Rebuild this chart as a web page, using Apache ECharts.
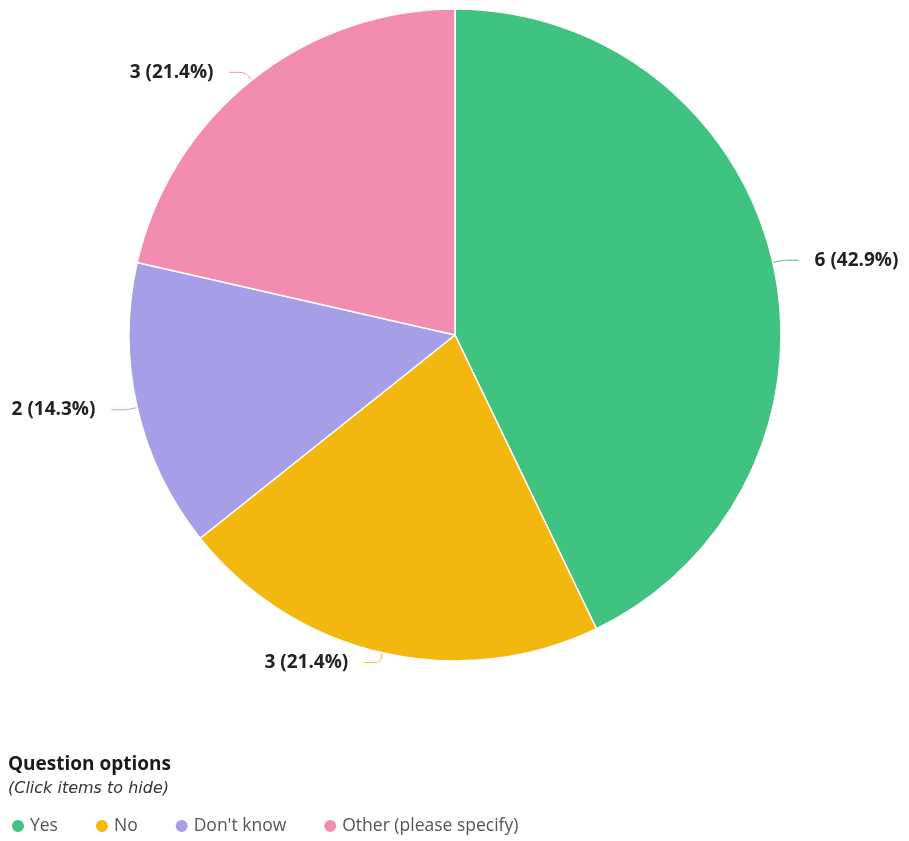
<!DOCTYPE html>
<html>
<head>
<meta charset="utf-8">
<script src="https://cdn.jsdelivr.net/npm/echarts@6/dist/echarts.min.js"></script>
<style>html,body{margin:0;padding:0;background:#fff;}#c{width:909px;height:841px;}</style>
</head>
<body>
<div id="c"></div>
<script>
const categories = ["Yes", "No", "Don't know", "Other (please specify)"];
const values = [6, 3, 2, 3];
const colors = ["#40c380", "#f2b80f", "#a69ee6", "#f28cb1"];

const total = values.reduce((a, b) => a + b, 0);
const chart = echarts.init(document.getElementById('c'));
chart.setOption({
  animation: false,
  title: {
    text: 'Question options',
    subtext: '(Click items to hide)',
    left: 3,
    top: 750,
    itemGap: 7,
    textStyle: { fontFamily: 'Open Sans', fontSize: 19, fontWeight: 'bold', color: '#1a1a1a' },
    subtextStyle: { fontFamily: 'DejaVu Sans', fontSize: 16, fontStyle: 'italic', color: '#333' }
  },
  legend: {
    left: 5,
    top: 812,
    icon: 'circle',
    itemWidth: 14,
    itemHeight: 14,
    itemGap: 36,
    textStyle: { fontFamily: 'Open Sans', fontSize: 17.5, color: '#555' },
    data: categories
  },
  series: [{
    type: 'pie',
    center: [455, 335],
    radius: 326,
    startAngle: 90,
    clockwise: true,
    itemStyle: { borderColor: '#fff', borderWidth: 1.5 },
    label: {
      show: true,
      position: 'outside',
      fontFamily: 'Open Sans',
      fontSize: 19,
      fontWeight: 'bold',
      color: '#222',
      distanceToLabelLine: 16,
      formatter: p => p.value + ' (' + (p.value / total * 100).toFixed(1) + '%)'
    },
    labelLine: { show: true, length: 10, length2: 16, smooth: true, lineStyle: { width: 1 } },
    data: categories.map((n, i) => ({ name: n, value: values[i], itemStyle: { color: colors[i] } }))
  }]
});
</script>
</body>
</html>
